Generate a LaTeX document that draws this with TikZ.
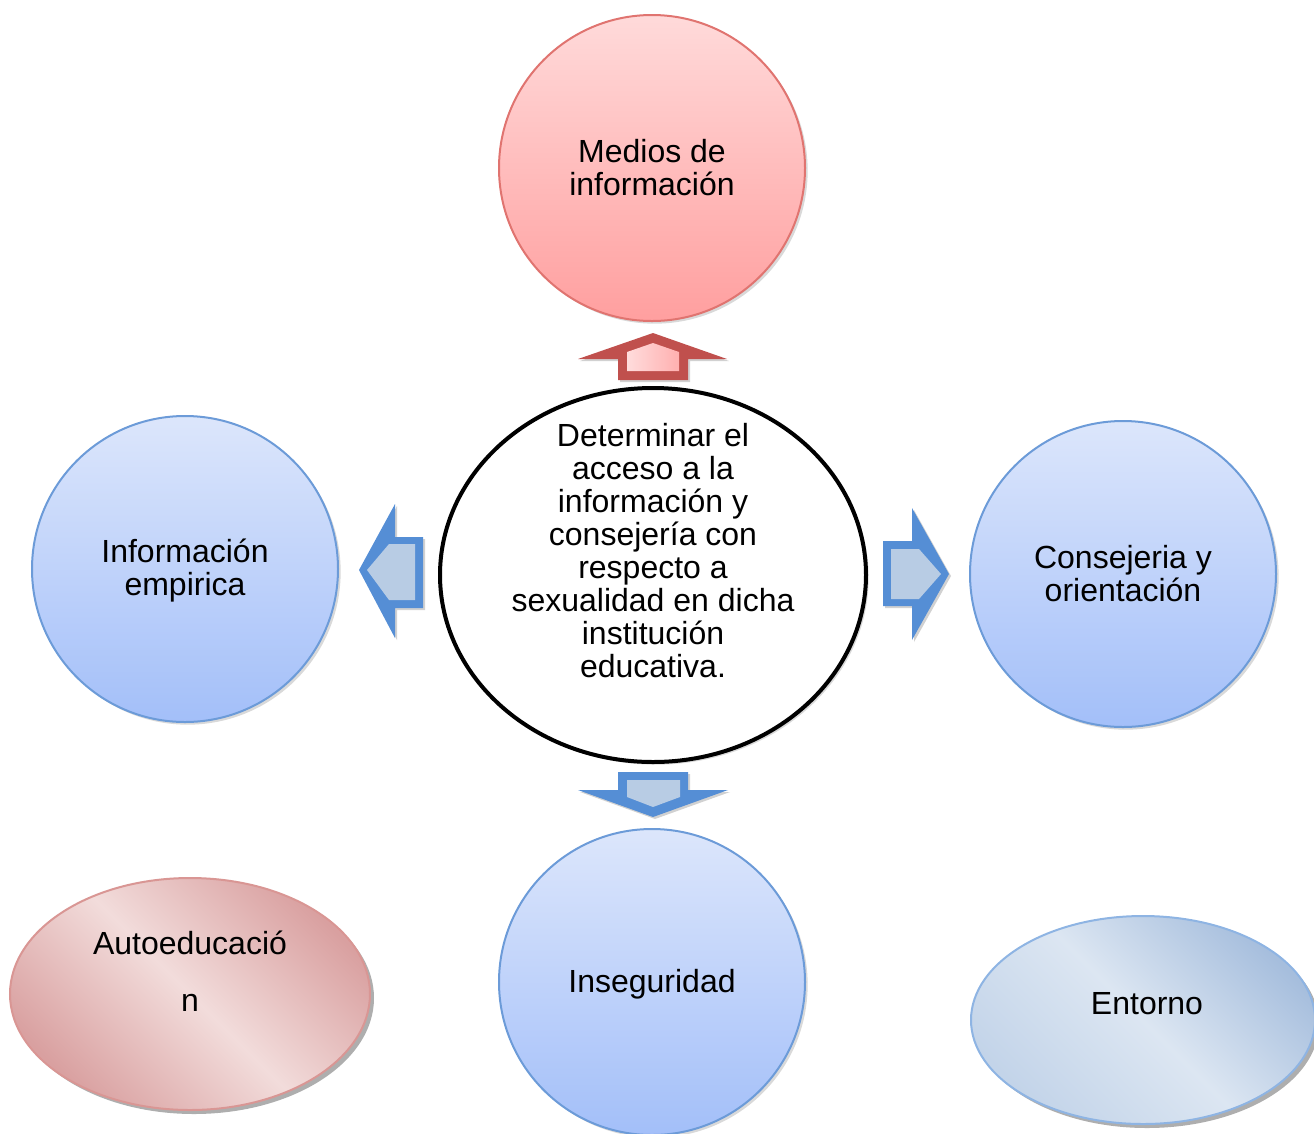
\documentclass[tikz,border=0pt]{standalone}
\usepackage{fontspec}
\setmainfont{Liberation Sans}
\usetikzlibrary{shapes.geometric,shadows}
\definecolor{redtop}{HTML}{FFDADA}
\definecolor{redbot}{HTML}{FF9F9F}
\definecolor{redline}{HTML}{E07470}
\definecolor{bluetop}{HTML}{DCE6FB}
\definecolor{bluebot}{HTML}{A3BFF9}
\definecolor{blueline}{HTML}{6C9BD8}
\definecolor{redarrow}{HTML}{C0504D}
\definecolor{redin1}{HTML}{FFDCDC}
\definecolor{redin2}{HTML}{FFB0B0}
\definecolor{bluearrow}{HTML}{558ED5}
\definecolor{bluein}{HTML}{B8CCE4}
\definecolor{autoline}{HTML}{D99694}
\definecolor{autodark}{HTML}{D9A0A0}
\definecolor{autolight}{HTML}{F2DCDB}
\definecolor{entline}{HTML}{8EB4E3}
\definecolor{entdark}{HTML}{A6BEDD}
\definecolor{entmid}{HTML}{C3D4E9}
\definecolor{entlight}{HTML}{DCE6F2}
\begin{document}
\begin{tikzpicture}[x=0.75pt,y=-0.75pt,
  txt/.style={font=\fontsize{24}{24.75}\selectfont, align=center, inner sep=0pt},
  softshadow/.style={drop shadow={shadow xshift=2pt, shadow yshift=-2pt, opacity=0.25, fill=black!60}},
  redcirc/.style={circle, minimum size=229.5pt, inner sep=0pt, draw=redline, line width=1.5pt,
    top color=redtop, bottom color=redbot, softshadow, txt},
  bluecirc/.style={circle, minimum size=229.5pt, inner sep=0pt, draw=blueline, line width=1.5pt,
    top color=bluetop, bottom color=bluebot, softshadow, txt},
  centreell/.style={ellipse, minimum width=319.5pt, minimum height=280.5pt, inner sep=0pt,
    draw=black, line width=3pt, fill=white, softshadow},
  autoell/.style={ellipse, minimum width=270pt, minimum height=174pt, inner sep=0pt,
    draw=autoline, line width=1.5pt, left color=autodark, right color=autodark,
    middle color=autolight, shading angle=135,
    drop shadow={shadow xshift=3pt, shadow yshift=-3pt, opacity=0.45, fill=black!70}},
  entell/.style={ellipse, minimum width=258pt, minimum height=156pt, inner sep=0pt,
    draw=entline, line width=1.5pt, left color=entmid, right color=entdark,
    middle color=entlight, shading angle=135,
    drop shadow={shadow xshift=3pt, shadow yshift=-3pt, opacity=0.45, fill=black!70}},
  arrshadow/.style={drop shadow={shadow xshift=1.5pt, shadow yshift=-1.5pt, opacity=0.3, fill=black!60}}
]
\useasboundingbox (0,0) rectangle (1314,1133);

% circles
\node[redcirc] (top) at (652,168) {Medios de\\información};
\node[bluecirc] (left) at (185,569) {};
\node[txt] (lefttxt) at (185,571) {Información\\empirica};
\node[bluecirc] (right) at (1123,574) {Consejeria y\\orientación};
\node[bluecirc] (bottom) at (652,982) {};
\node[txt] (bottomtxt) at (652,984) {Inseguridad};

% centre ellipse
\node[centreell] (centre) at (653,575) {};
\node[txt] (centretxt) at (653,551) {Determinar el\\acceso a la\\información y\\consejería con\\respecto a\\sexualidad en dicha\\institución\\educativa.};

% lower ellipses
\node[autoell] (auto) at (190,994) {};
\node[txt, font=\fontsize{24}{42.75}\selectfont] (autotxt) at (190,971) {Autoeducació\\n};
\node[entell] (ent) at (1143,1020) {};
\node[txt] (enttxt) at (1147,1004) {Entorno};

% up arrow (red)
\fill[redarrow, arrshadow] (653,333) -- (727,359) -- (688,359) -- (688,380) -- (618,380) -- (618,359) -- (578,359) -- cycle;
\shade[left color=redin1, right color=redin2] (627,371) -- (679,371) -- (679,352) -- (653,343) -- (627,352) -- cycle;

% down arrow (blue)
\fill[bluearrow, arrshadow] (618,772) -- (688,772) -- (688,790) -- (728,790) -- (653,817) -- (578,790) -- (618,790) -- cycle;
\fill[bluein] (627,780) -- (680,780) -- (680,797) -- (653,807) -- (627,797) -- cycle;

% left arrow (blue)
\fill[bluearrow, arrshadow] (359,570) -- (395,504) -- (395,537) -- (423,537) -- (423,608) -- (395,608) -- (395,638) -- cycle;
\fill[bluein] (367,570) -- (389,544) -- (415,544) -- (415,600) -- (389,600) -- cycle;

% right arrow (blue)
\fill[bluearrow, arrshadow] (883,541) -- (912,541) -- (912,508) -- (949,574) -- (912,640) -- (912,606) -- (883,606) -- cycle;
\fill[bluein] (891,549) -- (919,549) -- (941,574) -- (919,599) -- (891,599) -- cycle;
\end{tikzpicture}
\end{document}
